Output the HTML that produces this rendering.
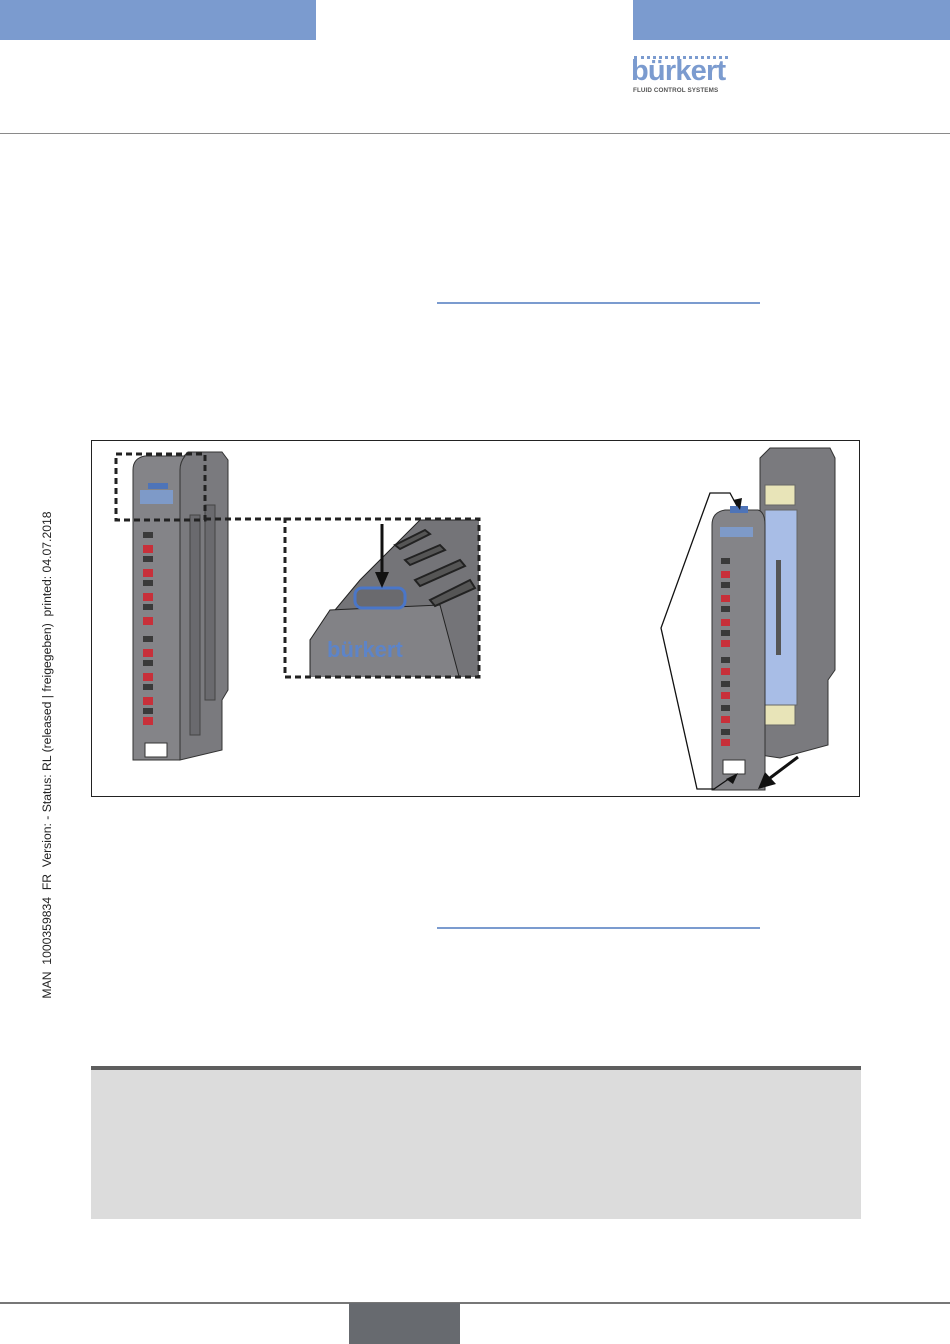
<!DOCTYPE html>
<html><head><meta charset="utf-8"><style>
html,body{margin:0;padding:0;background:#fff;}
body{width:950px;height:1344px;position:relative;overflow:hidden;font-family:"Liberation Sans",sans-serif;}
.a{position:absolute;}
</style></head><body>
<div class="a" style="left:0;top:0;width:316px;height:40px;background:#7b9bcf"></div>
<div class="a" style="left:633px;top:0;width:317px;height:40px;background:#7b9bcf"></div>
<div class="a" style="left:634px;top:56px;width:94px;height:0;border-top:3px dotted #7b9bcf"></div>
<div class="a" style="left:631px;top:55px;font-size:29px;font-weight:bold;color:#7b9bcf;letter-spacing:-0.8px;line-height:32px">bürkert</div>
<div class="a" style="left:633px;top:87px;font-size:6.3px;font-weight:bold;color:#555;letter-spacing:0.1px">FLUID CONTROL SYSTEMS</div>
<div class="a" style="left:0;top:133px;width:950px;height:1px;background:#8a8a8a"></div>
<div class="a" style="left:437px;top:302px;width:323px;height:2px;background:#7b9bcf"></div>
<div class="a" style="left:437px;top:927px;width:323px;height:2px;background:#7b9bcf"></div>
<div class="a" style="left:47px;top:755px;width:0;height:0">
<div style="position:absolute;left:0;top:0;transform:translate(-50%,-50%) rotate(-90deg);white-space:nowrap;font-size:12.2px;color:#222">MAN&nbsp; 1000359834&nbsp; FR&nbsp; Version: - Status: RL (released | freigegeben)&nbsp; printed: 04.07.2018</div></div>

<svg class="a" style="left:0;top:0" width="950" height="1344">
<rect x="91.5" y="440.5" width="768" height="356" fill="none" stroke="#222" stroke-width="1"/>
<!-- left device -->
<path d="M180 460 L188 452 L222 452 L228 460 L228 690 L222 700 L222 750 L180 760 Z" fill="#7a7a7e" stroke="#333"/>
<path d="M133 470 Q133 458 145 456 L185 456 Q180 462 180 470 L180 760 L133 760 Z" fill="#848488" stroke="#333"/>
<rect x="190" y="515" width="10" height="220" fill="#6a6a6e" stroke="#444"/>
<rect x="205" y="505" width="10" height="195" fill="#6a6a6e" stroke="#444"/>
<rect x="140" y="490" width="33" height="14" fill="#7e9ac8"/>
<rect x="148" y="483" width="20" height="6" fill="#4e74b8"/>
<g fill="#3a3a3a">
<rect x="143" y="532" width="10" height="6"/><rect x="143" y="556" width="10" height="6"/><rect x="143" y="580" width="10" height="6"/><rect x="143" y="604" width="10" height="6"/>
<rect x="143" y="636" width="10" height="6"/><rect x="143" y="660" width="10" height="6"/><rect x="143" y="684" width="10" height="6"/><rect x="143" y="708" width="10" height="6"/></g>
<g fill="#c8303a">
<rect x="143" y="545" width="10" height="8"/><rect x="143" y="569" width="10" height="8"/><rect x="143" y="593" width="10" height="8"/><rect x="143" y="617" width="10" height="8"/>
<rect x="143" y="649" width="10" height="8"/><rect x="143" y="673" width="10" height="8"/><rect x="143" y="697" width="10" height="8"/><rect x="143" y="717" width="10" height="8"/></g>
<rect x="145" y="743" width="22" height="14" fill="#fff" stroke="#333"/>
<rect x="116" y="454" width="89" height="66" fill="none" stroke="#222" stroke-width="3" stroke-dasharray="6,4"/>
<line x1="205" y1="519" x2="285" y2="519" stroke="#222" stroke-width="3" stroke-dasharray="6,4"/>
<!-- zoom inset -->
<clipPath id="c"><rect x="285" y="519" width="194" height="158"/></clipPath>
<g clip-path="url(#c)">
<path d="M310 640 L360 580 L420 520 L480 520 L480 680 L310 680 Z" fill="#747478" stroke="#222"/>
<path d="M310 640 L330 610 L440 605 L460 680 L310 680 Z" fill="#828286" stroke="#222"/>
<g stroke="#222" stroke-width="2" fill="#555"><path d="M405 560 L440 545 L445 550 L410 565Z"/><path d="M415 580 L460 560 L465 566 L420 586Z"/><path d="M430 600 L470 580 L475 588 L435 606Z"/><path d="M395 545 L425 530 L430 534 L400 549Z"/></g>
<rect x="355" y="588" width="50" height="20" rx="7" fill="#6a6a6e" stroke="#4a76c8" stroke-width="3"/>
<text x="327" y="657" font-size="22" font-weight="bold" fill="#5d84c8" font-family="Liberation Sans,sans-serif">bürkert</text>
</g>
<rect x="285" y="519" width="194" height="158" fill="none" stroke="#222" stroke-width="3" stroke-dasharray="6,4"/>
<line x1="382" y1="524" x2="382" y2="575" stroke="#111" stroke-width="3"/>
<path d="M375 572 L382 588 L389 572 Z" fill="#111"/>
<!-- right device -->
<path d="M760 458 L770 448 L830 448 L835 458 L835 670 L828 680 L828 745 L780 758 L760 755 Z" fill="#7a7a7e" stroke="#333"/>
<rect x="765" y="485" width="30" height="20" fill="#e8e4b8" stroke="#666"/>
<rect x="765" y="705" width="30" height="20" fill="#e8e4b8" stroke="#666"/>
<rect x="765" y="510" width="32" height="195" fill="#a8bde6" stroke="#666"/>
<rect x="776" y="560" width="5" height="95" fill="#555"/>
<path d="M712 525 Q712 512 725 510 L758 510 Q765 512 765 525 L765 790 L712 790 Z" fill="#848488" stroke="#333"/>
<rect x="720" y="527" width="33" height="10" fill="#7e9ac8"/>
<rect x="730" y="506" width="18" height="7" fill="#4e74b8"/>
<g fill="#3a3a3a"><rect x="721" y="558" width="9" height="6"/><rect x="721" y="582" width="9" height="6"/><rect x="721" y="606" width="9" height="6"/><rect x="721" y="630" width="9" height="6"/><rect x="721" y="657" width="9" height="6"/><rect x="721" y="681" width="9" height="6"/><rect x="721" y="705" width="9" height="6"/><rect x="721" y="729" width="9" height="6"/></g>
<g fill="#c8303a"><rect x="721" y="571" width="9" height="7"/><rect x="721" y="595" width="9" height="7"/><rect x="721" y="619" width="9" height="7"/><rect x="721" y="640" width="9" height="7"/><rect x="721" y="668" width="9" height="7"/><rect x="721" y="692" width="9" height="7"/><rect x="721" y="716" width="9" height="7"/><rect x="721" y="739" width="9" height="7"/></g>
<rect x="723" y="760" width="22" height="14" fill="#fff" stroke="#333"/>
<polyline points="737,506 730,493 710,493 661,628 697,789 714,789 730,778" fill="none" stroke="#111" stroke-width="1.3"/>
<path d="M733 500 L740 510 L742 498Z M726 779 L738 773 L733 784Z" fill="#111"/>
<line x1="798" y1="757" x2="770" y2="778" stroke="#111" stroke-width="3"/>
<path d="M758 789 L765 772 L776 784 Z" fill="#111"/>
</svg>

<div class="a" style="left:91px;top:1066px;width:770px;height:4px;background:#5e5e5e"></div>
<div class="a" style="left:91px;top:1070px;width:770px;height:149px;background:#dcdcdc"></div>
<div class="a" style="left:0;top:1302px;width:950px;height:2px;background:#777"></div>
<div class="a" style="left:349px;top:1303px;width:111px;height:41px;background:#676a6f"></div>
</body></html>
